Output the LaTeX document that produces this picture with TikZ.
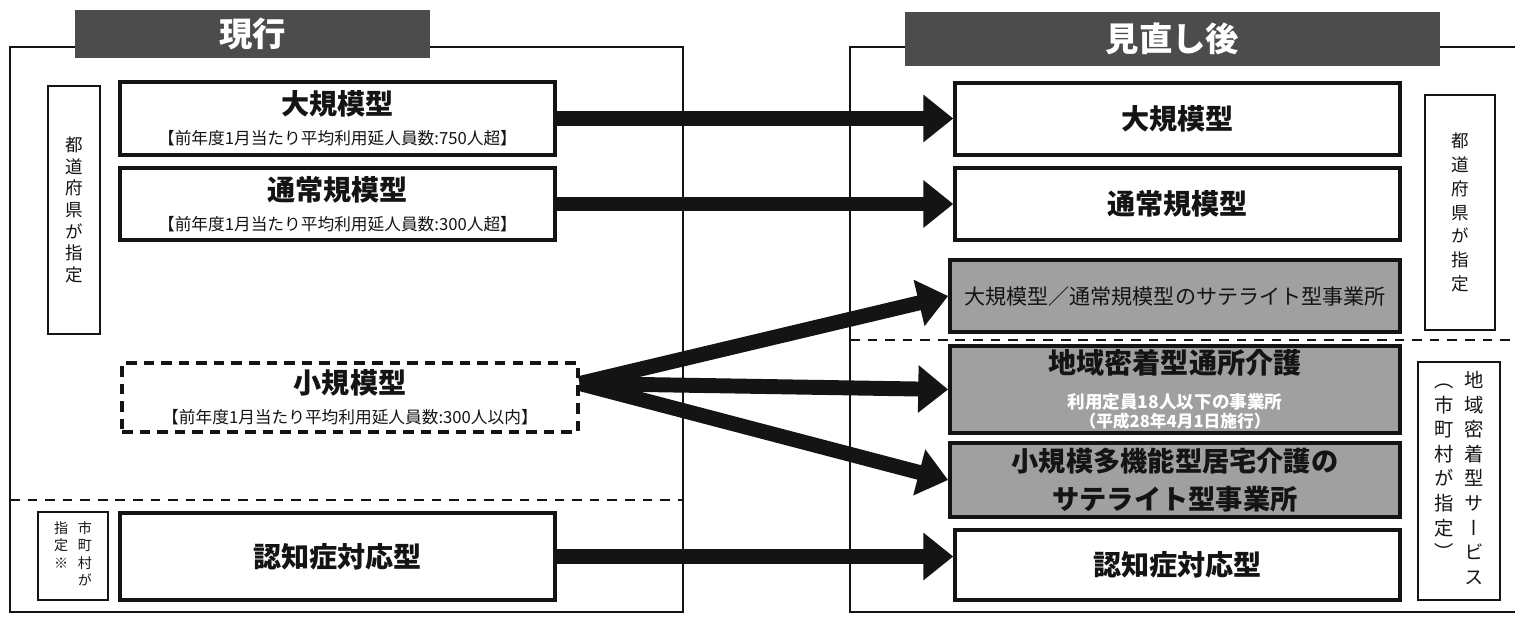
\documentclass[tikz,border=0pt]{standalone}
\usepackage{fontspec}
\setmainfont{Noto Sans CJK JP}
\newfontfamily\tatefont[RawFeature=+vert]{Noto Sans CJK JP}
\usepackage{tikz}
\usetikzlibrary{arrows.meta}
\definecolor{ink}{HTML}{141414}
\definecolor{headfill}{HTML}{4C4C4C}
\definecolor{shade}{HTML}{A0A0A0}
\newcommand{\bigt}{\fontsize{16}{20}\selectfont\bfseries}
\newcommand{\smallt}{\fontsize{9.5}{11}\selectfont}

\begin{document}
\begin{tikzpicture}[x=0.02cm,y=-0.02cm,
  every node/.style={inner sep=0pt,align=center,text=ink},
  headbar/.style={fill=headfill,text=white,font=\fontsize{19}{20}\selectfont\bfseries},
  planbox/.style={draw=ink,line width=2pt,fill=white},
  greybox/.style={draw=ink,line width=2.2pt,fill=shade},
  tagbox/.style={draw=ink,line width=1.4pt,fill=white},
  outline/.style={draw=ink,line width=1.2pt},
  divider/.style={draw=ink,line width=1.4pt,dash pattern=on 5.5pt off 4.5pt},
  bigarrow/.style={draw=ink,line width=8.5pt,-{Triangle[length=17pt,width=26pt]}}]
\useasboundingbox (0,0) rectangle (1515,621);

% frames
\draw[outline] (75,47) -- (10,47) -- (10,612) -- (683,612) -- (683,47) -- (430,47);
\draw[outline] (905,47) -- (850,47) -- (850,612) -- (1515,612);
\draw[outline] (1440,47) -- (1515,47);
\node[headbar,minimum width=7.1cm,minimum height=0.96cm] (nowhead) at (252.5,34) {現行};
\node[headbar,minimum width=10.7cm,minimum height=1.08cm] (newhead) at (1172.5,39) {見直し後};
\draw[divider] (10,500) -- (683,500);
\draw[divider] (850,340) -- (1515,340);

% current
\node[tagbox,minimum width=1.04cm,minimum height=4.96cm,
  font=\tatefont\fontsize{10}{12.3}\selectfont] (prefL) at (74,210)
  {都\\道\\府\\県\\が\\指\\定};
\node[tagbox,minimum width=1.4cm,minimum height=1.76cm,
  font=\tatefont\fontsize{8}{10}\selectfont] (muniL) at (73,556)
  {\begin{tabular}{@{}c@{\hspace{5.5pt}}c@{}}指&市\\定&町\\※&村\\&が\end{tabular}};
\node[planbox,minimum width=8.7cm,minimum height=1.46cm] (curL) at (337.5,118.5)
  {{\bigt 大規模型}\\[5pt]{\smallt 【前年度1月当たり平均利用延人員数:750人超】}};
\node[planbox,minimum width=8.7cm,minimum height=1.44cm] (stdL) at (337.5,204)
  {{\bigt 通常規模型}\\[5pt]{\smallt 【前年度1月当たり平均利用延人員数:300人超】}};
\node[planbox,dash pattern=on 6pt off 4pt,minimum width=9.12cm,minimum height=1.38cm] (smlL) at (350,397.5)
  {{\bigt 小規模型}\\[5pt]{\smallt 【前年度1月当たり平均利用延人員数:300人以内】}};
\node[planbox,minimum width=8.7cm,minimum height=1.74cm] (demL) at (337.5,556.5)
  {\bigt 認知症対応型};

% revised
\node[planbox,minimum width=8.9cm,minimum height=1.44cm] (bigR) at (1177.5,119) {\bigt 大規模型};
\node[planbox,minimum width=8.9cm,minimum height=1.44cm] (stdR) at (1177.5,204) {\bigt 通常規模型};
\node[greybox,minimum width=9cm,minimum height=1.44cm] (satR) at (1175,296)
  {\fontsize{12}{14}\selectfont 大規模型／通常規模型のサテライト型事業所};
\node[greybox,minimum width=9cm,minimum height=1.74cm] (comR) at (1175,389.5)
  {{\bigt 地域密着型通所介護}\\[8pt]{\color{white}\fontsize{10}{12}\selectfont\bfseries 利用定員18人以下の事業所}\\[-1pt]
   {\color{white}\fontsize{9.5}{11}\selectfont\bfseries （平成28年4月1日施行）}};
\node[greybox,minimum width=9cm,minimum height=1.48cm] (mulR) at (1175,480)
  {{\fontsize{15.5}{18}\selectfont\bfseries 小規模多機能型居宅介護の}\\[5.5pt]
   {\fontsize{15.5}{18}\selectfont\bfseries サテライト型事業所}};
\node[planbox,minimum width=8.9cm,minimum height=1.4cm] (demR) at (1177.5,565) {\bigt 認知症対応型};
\node[tagbox,minimum width=1.4cm,minimum height=4.7cm,
  font=\tatefont\fontsize{10}{13.6}\selectfont] (prefR) at (1460,212.5)
  {都\\道\\府\\県\\が\\指\\定};
\node[tagbox,minimum width=1.64cm,minimum height=4.76cm,
  font=\tatefont\fontsize{11}{14}\selectfont] (comLab) at (1459,481)
  {\begin{tabular}{@{}c@{\hspace{6pt}}c@{}}（&地\\市&域\\町&密\\村&着\\が&型\\指&サ\\定&ー\\）&ビ\\&ス\end{tabular}};

% arrows
\coordinate (fan) at ([yshift=0.28cm]smlL.east);
\foreach \a/\b in {curL/bigR, stdL/stdR, demL/demR}
  \draw[bigarrow] (\a.east) -- (\a.east -| \b.west);
\foreach \b in {satR, comR, mulR}
  \draw[bigarrow] (fan) -- (\b.west);
\end{tikzpicture}
\end{document}
